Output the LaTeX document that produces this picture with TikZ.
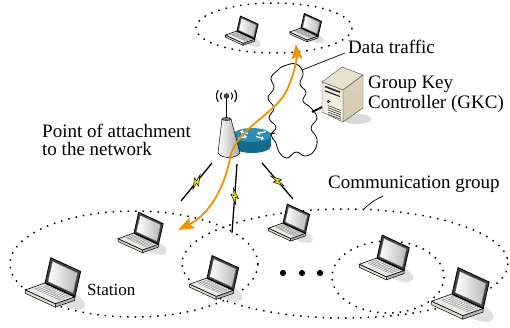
\documentclass[tikz,border=0pt]{standalone}
\usepackage{fontspec}
\setmainfont{Liberation Serif}
\usetikzlibrary{arrows.meta,calc}

\definecolor{traffic}{RGB}{243,146,0}
\definecolor{routertop}{RGB}{44,142,178}
\definecolor{routerside}{RGB}{20,106,136}
\definecolor{caseFront}{RGB}{243,238,224}
\definecolor{caseSide}{RGB}{212,201,174}
\definecolor{caseTop}{RGB}{232,225,205}
\definecolor{padEdge}{RGB}{226,220,204}
\definecolor{zapYellow}{RGB}{250,225,20}

\tikzset{
  grp/.style={line width=1.5pt, dash pattern=on 1.5pt off 6pt},
  txt/.style={font=\fontsize{19}{18}\selectfont, inner sep=0pt, anchor=base west},
  txtblock/.style={font=\fontsize{19}{18}\selectfont, inner sep=0pt, anchor=north west, align=left},
  leadline/.style={line width=0.7pt},
  radio/.style={line width=1.1pt},
  wire/.style={line width=1pt},
  airlink/.style={line width=1.3pt},
  zap/.pic={
    \filldraw[fill=zapYellow, draw=black, line width=0.5pt, line join=miter]
      (-8,1.8) -- (2,-4) -- (0.8,-0.7) -- (8,-1.8) -- (-2,4) -- (-0.8,0.7) -- cycle;
  },
  laptop/.pic={
    % shadow on the ground
    \fill[black!12] (20,14) ellipse[x radius=16, y radius=7, rotate=-25];
    % base: visible side faces
    \filldraw[fill=padEdge, draw=black, line width=0.5pt]
      (-17,6) -- (9,18) -- (9,21) -- (-17,9) -- cycle;
    \filldraw[fill=black!30, draw=black, line width=0.5pt]
      (9,18) -- (26,12) -- (26,15) -- (9,21) -- cycle;
    % base: top surface
    \filldraw[fill=black!8, draw=black, line width=0.6pt]
      (0,0) -- (26,12) -- (9,18) -- (-17,6) -- cycle;
    % keyboard
    \filldraw[fill=white, draw=black!50, line width=0.3pt]
      (0.9,1.8) -- (21.7,11.4) -- (12.35,14.7) -- (-8.45,5.1) -- cycle;
    \foreach \e in {0.21,0.32,0.43,0.54}
      \draw[black!45, line width=0.3pt]
        ({0.1*26-\e*17},{0.1*12+\e*6}) -- ({0.9*26-\e*17},{0.9*12+\e*6});
    \foreach \a in {0.18,0.26,0.34,0.42,0.5,0.58,0.66,0.74,0.82}
      \draw[black!45, line width=0.3pt]
        ({\a*26-0.1*17},{\a*12+0.1*6}) -- ({\a*26-0.65*17},{\a*12+0.65*6});
    % lid
    \filldraw[fill=black!75, draw=black, line width=0.8pt, line join=round]
      (0,0) -- (26,12) -- (31,-10) -- (5,-22) -- cycle;
    \shade[left color=white, right color=black!28, draw=black!60, line width=0.3pt]
      (2.6,-1.2) -- (24.4,8.8) -- (28.4,-8.8) -- (6.6,-18.8) -- cycle;
    \draw[line width=1.2pt] (0,0) -- (26,12);
  }
}

\begin{document}
\begin{tikzpicture}[x=1pt, y=-1pt, line cap=butt]
\useasboundingbox (0,0) rectangle (510,327);

% ---------- groups of stations ----------
\draw[grp] (274,28) ellipse[x radius=78, y radius=25];
\draw[grp] (134,264) ellipse[x radius=124, y radius=53];
\draw[grp] (345,263.5) ellipse[x radius=163, y radius=54.5];
\draw[grp] (388,277) ellipse[x radius=56, y radius=36];

% ---------- stations ----------
\pic[scale=0.68] (t1) at (237,31) {laptop};
\pic[scale=0.66] (t2) at (301,28) {laptop};
\pic[scale=1.15] (s1) at (45,283) {laptop};
\pic[scale=0.94] (s2) at (134,233) {laptop};
\pic[scale=1.02] (s3) at (207,278) {laptop};
\pic[scale=0.86] (s4) at (283,223) {laptop};
\pic[scale=1.04] (s5) at (377,258) {laptop};
\pic[scale=1.2]  (s6) at (452,294) {laptop};

% ellipsis between stations
\foreach \x [count=\i] in {283,302,320}
  \fill (\x,273) circle[radius=3.1] coordinate (dot\i);

% ---------- wireless links ----------
\coordinate (wlA) at (212,163); \coordinate (wlB) at (181,201);
\coordinate (wmA) at (237,164); \coordinate (wmB) at (232,233);
\coordinate (wrA) at (262,163); \coordinate (wrB) at (293,199);
\draw[airlink] (wlA) -- (wlB);
\draw[airlink] (wmA) -- (wmB);
\draw[airlink] (wrA) -- (wrB);
\pic[rotate=51] at ($(wlA)!0.5!(wlB)$) {zap};
\pic[rotate=86] at ($(wmA)!0.47!(wmB)$) {zap};
\pic[rotate=-49] at ($(wrA)!0.5!(wrB)$) {zap};

% ---------- router ----------
\fill[routerside] (233,135) rectangle (271,146);
\fill[routerside] (252,146) ellipse[x radius=19, y radius=7];
\fill[routertop] (252,135) ellipse[x radius=19, y radius=7];
\begin{scope}[white, line width=1.3pt, -{Triangle[length=2.6pt, width=3.8pt]}]
  \draw (238,138.5) -- (247,136.2);
  \draw (266,131.5) -- (257,133.8);
  \draw (248,133.6) -- (240,131.2);
  \draw (256,136.4) -- (264,138.8);
\end{scope}
\coordinate (routerR) at (270,134);

% ---------- access point ----------
\shade[left color=white, right color=black!35, draw=black, line width=0.5pt]
  (222,119) -- (231,119) -- (240,153) .. controls (236,159) and (222,159) .. (218,153) -- cycle;
\filldraw[fill=black!55, draw=black, line width=0.4pt] (226.5,119) ellipse[x radius=4.5, y radius=1.5];
\draw[line width=1pt] (226.5,118) -- (226.5,98);
\filldraw[fill=black!70, draw=black, line width=0.4pt] (226.5,96) circle[radius=2.4] coordinate (ant);
\foreach \r in {6,10} {
  \draw[radio] (ant) ++(145:\r) arc[start angle=145, end angle=215, radius=\r];
  \draw[radio] (ant) ++(-35:\r) arc[start angle=-35, end angle=35, radius=\r];
}

% ---------- backbone cloud ----------
\draw[line width=0.8pt] plot[smooth cycle, tension=0.75] coordinates {
  (284,66) (296,64) (303,73) (300,84) (306,92) (303,101) (311,108) (317,118)
  (311,128) (317,139) (314,151) (305,156) (296,152) (287,158) (279,152)
  (276,143) (271,135) (276,127) (269,118) (274,108) (268,98) (274,88)
  (271,78) (278,70)};
\coordinate (cloudTop) at (302,70);
\coordinate (cloudL) at (275,133);
\coordinate (cloudR) at (312,112);
\draw[wire] (routerR) -- (cloudL);

% ---------- key server ----------
\fill[black!15] (357,119) ellipse[x radius=14, y radius=5];
\filldraw[fill=caseTop, draw=black!70, line width=0.4pt] (322,82) -- (343,90) -- (363,75) -- (342,67) -- cycle;
\shade[top color=caseSide!80, bottom color=caseSide, draw=black!70, line width=0.4pt]
  (343,90) -- (363,75) -- (363,108) -- (343,122) -- cycle;
\filldraw[fill=caseFront, draw=black!70, line width=0.4pt] (322,82) -- (343,90) -- (343,122) -- (322,112) -- cycle;
\draw[black!85, line width=1.6pt] (325,86.5) -- (340,92.2);
\draw[black!85, line width=1.2pt] (325,90.8) -- (340,96.5);
\filldraw[fill=black!60, draw=black] (328.5,101.5) circle[radius=1.3];
\foreach \k in {0,1,2,3,4}
  \draw[black!75, line width=0.6pt] (328,{105.5+2.2*\k}) -- (341,{110.5+2.2*\k});
\coordinate (srvL) at (322,107);
\draw[line width=1.8pt] (cloudR) -- (srvL);

% ---------- data traffic ----------
\coordinate (trafficA) at (178,230);
\coordinate (trafficB) at (296,44);
\draw[traffic, line width=1.8pt,
      {Stealth[length=16pt, width=12pt, inset=3pt]}-{Stealth[length=15pt, width=11pt, inset=3pt]}]
  (trafficA) .. controls (208,215) and (224,190) .. (230,158)
             .. controls (236,128) and (275,115) .. (287,90)
             .. controls (295,72) and (297,58) .. (trafficB);

% ---------- labels ----------
\node[txt] (dataLbl) at (348,53) {Data traffic};
\coordinate (dataEnd) at (345,53);
\draw[leadline] (cloudTop) -- (dataEnd);

\node[txtblock, font=\fontsize{19}{20}\selectfont] (gkcLbl) at (368,76) {Group Key\\Controller (GKC)};

\node[txtblock] (poaLbl) at (42,123.5) {Point of attachment\\to the network};

\node[txt] (commLbl) at (328,188) {Communication group};
\coordinate (commA) at (363,210);
\coordinate (commB) at (383,196);
\draw[leadline] (commA) to[bend left=10] (commB);

\node[txt, font=\fontsize{17}{18}\selectfont] (staLbl) at (87,295) {Station};
\end{tikzpicture}
\end{document}
